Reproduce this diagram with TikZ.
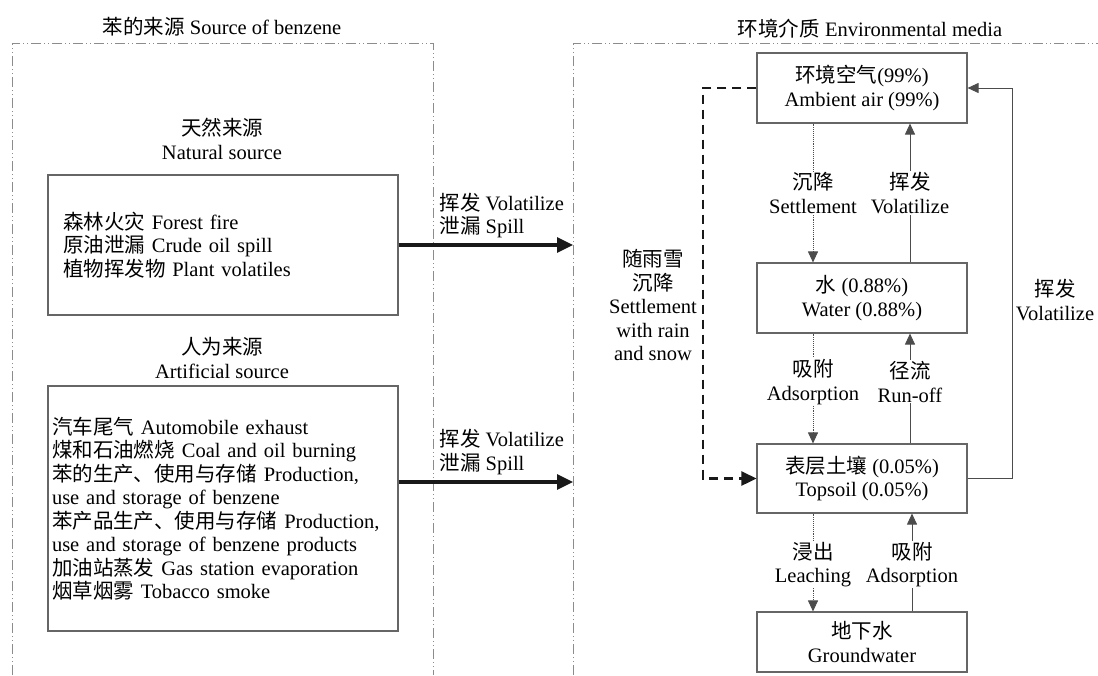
\documentclass[tikz,border=0pt]{standalone}
\usepackage{fontspec}
\setmainfont{Liberation Serif}
\newfontfamily\cjk{Noto Sans CJK SC}
\usetikzlibrary{arrows.meta}
\newcommand\C[1]{{\cjk #1}}
\begin{document}
\begin{tikzpicture}[x=1pt,y=-1pt,font=\fontsize{20.5}{23.5}\selectfont,
  frame/.style={draw=black!45, line width=0.8pt, dash pattern=on 10pt off 3pt on 1pt off 3pt on 1pt off 3pt},
  box/.style={draw=black!60, line width=1.1pt, inner sep=0pt, align=center},
  thinarrow/.style={draw=black!70, line width=0.9pt, -{Triangle[length=11pt,width=10pt]}},
  dotarrow/.style={thinarrow, densely dotted},
  lbl/.style={fill=white, inner sep=1pt, align=center},
  bigarrow/.style={draw=black!90, line width=3.2pt, -{Triangle[length=16pt,width=15pt]}},
  dasharrow/.style={draw=black!90, line width=2.6pt, dash pattern=on 9pt off 6pt, -{Triangle[length=15pt,width=14pt]}}]
\useasboundingbox (0,0) rectangle (1098,675);

% panel frames
\draw[frame] (12,675) -- (12,43) -- (433,43) -- (433,675);
\draw[frame] (573,675) -- (573,43) -- (1098,43);

% titles
\node (t1) at (222,27) {\C{苯的来源} Source of benzene};
\node (t2) at (870,29) {\C{环境介质} Environmental media};

% left side
\node[align=center] (nath) at (222,139) {\C{天然来源}\\Natural source};
\node[box, minimum width=350, minimum height=140, text width=320, inner xsep=15, align=left] (nat) at (223,245)
  {\C{森林火灾} Forest fire\\\C{原油泄漏} Crude oil spill\\\C{植物挥发物} Plant volatiles};
\node[align=center] (arth) at (222,358) {\C{人为来源}\\Artificial source};
\node[box, minimum width=350, minimum height=245, text width=342, inner xsep=4, align=left] (art) at (223,508.5)
  {\C{汽车尾气} Automobile exhaust\\
   \C{煤和石油燃烧} Coal and oil burning\\
   \C{苯的生产、使用与存储} Production,\\
   use and storage of benzene\\
   \C{苯产品生产、使用与存储} Production,\\
   use and storage of benzene products\\
   \C{加油站蒸发} Gas station evaporation\\
   \C{烟草烟雾} Tobacco smoke};

\coordinate (in1) at (573,245);
\coordinate (in2) at (573,482);
\draw[bigarrow] (nat.east) -- (in1);
\draw[bigarrow] ([yshift=26.5pt]art.east) -- (in2);
\node[anchor=west, align=left] (l1) at (436,215.5) {\C{挥发} Volatilize\\\C{泄漏} Spill};
\node[anchor=west, align=left] (l2) at (436,452) {\C{挥发} Volatilize\\\C{泄漏} Spill};

% right side boxes
\node[box, minimum width=210, minimum height=70] (air) at (862,88) {\C{环境空气}(99\%)\\Ambient air (99\%)};
\node[box, minimum width=210, minimum height=70] (water) at (862,298) {\C{水} (0.88\%)\\Water (0.88\%)};
\node[box, minimum width=210, minimum height=69] (soil) at (862,478.5) {\C{表层土壤} (0.05\%)\\Topsoil (0.05\%)};
\node[box, minimum width=210, minimum height=60] (gw) at (862,642) {\C{地下水}\\Groundwater};

% vertical exchanges
\draw[dotarrow] ([xshift=-49pt]air.south) -- node[lbl]{\C{沉降}\\Settlement} ([xshift=-49pt]water.north);
\draw[thinarrow] ([xshift=48pt]water.north) -- node[lbl]{\C{挥发}\\Volatilize} ([xshift=48pt]air.south);
\draw[dotarrow] ([xshift=-49pt]water.south) -- node[lbl,pos=0.44]{\C{吸附}\\Adsorption} ([xshift=-49pt]soil.north);
\draw[thinarrow] ([xshift=48pt]soil.north) -- node[lbl,pos=0.56]{\C{径流}\\Run-off} ([xshift=48pt]water.south);
\draw[dotarrow] ([xshift=-49pt]soil.south) -- node[lbl,pos=0.52]{\C{浸出}\\Leaching} ([xshift=-49pt]gw.north);
\draw[thinarrow] ([xshift=50pt]gw.north) -- node[lbl,pos=0.48]{\C{吸附}\\Adsorption} ([xshift=50pt]soil.south);

% right loop: topsoil volatilize to air
\coordinate (rb) at (1012,478.5);
\coordinate (rt) at (1012,88);
\draw[thinarrow] (soil.east) -- (rb) -- (rt) -- (air.east);
\node[align=center] (rlbl) at (1055,300) {\C{挥发}\\Volatilize};

% dashed loop: air to topsoil with rain and snow
\coordinate (lt) at (703,88);
\coordinate (lb) at (703,478.5);
\draw[dasharrow] (air.west) -- (lt) -- (lb) -- (soil.west);
\node[align=center] (dlbl) at (653,305) {\C{随雨雪}\\\C{沉降}\\Settlement\\with rain\\and snow};
\end{tikzpicture}
\end{document}
